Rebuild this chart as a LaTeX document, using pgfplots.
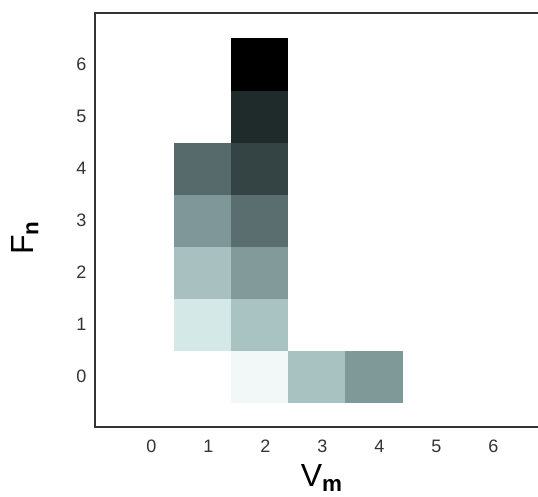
\documentclass[border=0pt]{standalone}
\usepackage{pgfplots}
\pgfplotsset{compat=1.18}
\usepackage{fontspec}
\setmainfont{Liberation Sans}

\begin{document}
\begin{tikzpicture}
\begin{axis}[
    name=ax,
    scale only axis,
    width=332.25pt, height=310.5pt,
    xmin=-0.895, xmax=6.877, ymin=-0.98, ymax=6.99,
    xtick={0,...,6}, ytick={0,...,6},
    major tick length=0pt,
    axis line style={draw=none},
    /pgf/number format/assume math mode=true,
    tick label style={font=\fontsize{13.5}{16}\selectfont, text=black!80},
    xticklabel style={yshift=-6.5pt, xshift=4pt},
    yticklabel style={xshift=-3pt},
    xlabel={V\textsubscript{\textbf{m}}},
    ylabel={F\textsubscript{\textbf{n}}},
    every axis x label/.style={at={(rel axis cs:0.512,0)}, anchor=center, yshift=-38.5pt, font=\fontsize{24}{28}\selectfont},
    every axis y label/.style={at={(rel axis cs:0,0.4565)}, anchor=center, xshift=-52.5pt, rotate=90, font=\fontsize{24}{28}\selectfont},
    clip=false,
]
\addplot[matrix plot*, mesh/cols=4, mesh/color input=explicit, point meta=explicit symbolic] table[meta=c] {
x y c
1 0 rgb255=255,255,255
2 0 rgb255=242,248,248
3 0 rgb255=168,194,194
4 0 rgb255=127,152,152
1 1 rgb255=213,232,232
2 1 rgb255=169,194,194
3 1 rgb255=255,255,255
4 1 rgb255=255,255,255
1 2 rgb255=168,192,192
2 2 rgb255=131,154,155
3 2 rgb255=255,255,255
4 2 rgb255=255,255,255
1 3 rgb255=127,151,152
2 3 rgb255=90,110,112
3 3 rgb255=255,255,255
4 3 rgb255=255,255,255
1 4 rgb255=86,106,108
2 4 rgb255=52,68,68
3 4 rgb255=255,255,255
4 4 rgb255=255,255,255
1 5 rgb255=255,255,255
2 5 rgb255=31,42,42
3 5 rgb255=255,255,255
4 5 rgb255=255,255,255
1 6 rgb255=255,255,255
2 6 rgb255=0,0,0
3 6 rgb255=255,255,255
4 6 rgb255=255,255,255
};
\draw[black!80, line width=1.5pt] (rel axis cs:1,1) -- (rel axis cs:0,1) -- (rel axis cs:0,0) -- (rel axis cs:1,0);
\end{axis}
\pgfresetboundingbox
\path ([xshift=-71.25pt,yshift=-51.75pt]ax.south west) rectangle ([yshift=9.75pt]ax.north east);
\end{tikzpicture}
\end{document}
